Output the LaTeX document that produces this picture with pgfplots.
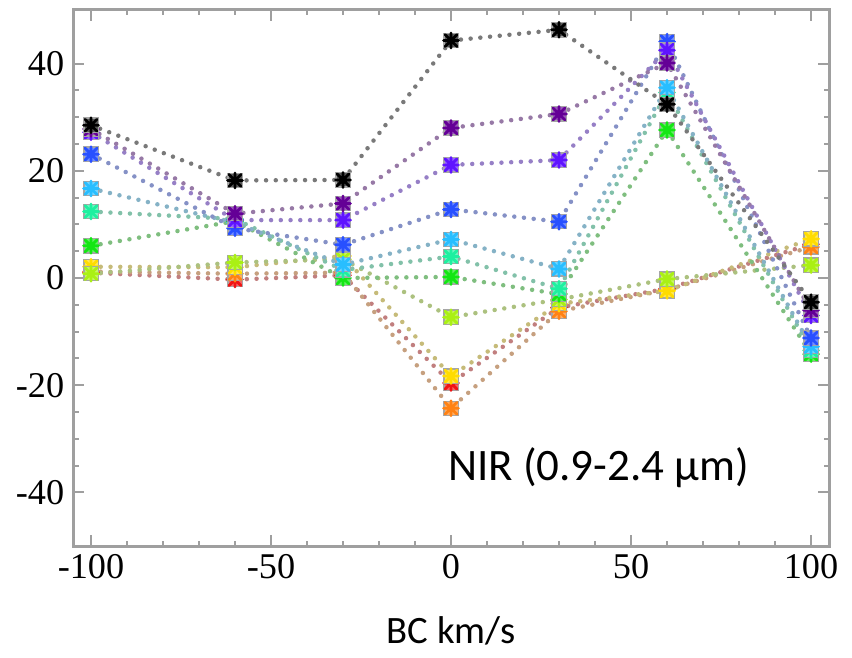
\documentclass[border=0pt]{standalone}
\usepackage{pgfplots}
\pgfplotsset{compat=1.18}
\usepackage{fontspec}
\setmainfont{Liberation Serif}
\newfontfamily\carlito{Carlito}

\definecolor{cblack}{RGB}{0,0,0}
\definecolor{cdpurple}{RGB}{100,0,150}
\definecolor{cviolet}{RGB}{95,20,255}
\definecolor{cblue}{RGB}{40,80,255}
\definecolor{csky}{RGB}{40,190,255}
\definecolor{caqua}{RGB}{30,240,160}
\definecolor{cgreen}{RGB}{20,230,20}
\definecolor{clime}{RGB}{170,240,20}
\definecolor{cyellow}{RGB}{255,220,0}
\definecolor{corange}{RGB}{255,130,20}
\definecolor{cred}{RGB}{240,20,20}

% filled square (grey rim) with an eight-armed star on top
\pgfdeclareplotmark{ast}{%
  \begin{pgfscope}
  \pgfsetstrokecolor{gray!70}\pgfsetlinewidth{0.5pt}%
  \pgfpathrectangle{\pgfpoint{-0.95\pgfplotmarksize}{-0.95\pgfplotmarksize}}%
    {\pgfpoint{1.9\pgfplotmarksize}{1.9\pgfplotmarksize}}%
  \pgfusepathqfillstroke
  \end{pgfscope}
  \pgfpathmoveto{\pgfpoint{-0.8\pgfplotmarksize}{-0.8\pgfplotmarksize}}%
  \pgfpathlineto{\pgfpoint{0.8\pgfplotmarksize}{0.8\pgfplotmarksize}}%
  \pgfpathmoveto{\pgfpoint{-0.8\pgfplotmarksize}{0.8\pgfplotmarksize}}%
  \pgfpathlineto{\pgfpoint{0.8\pgfplotmarksize}{-0.8\pgfplotmarksize}}%
  \pgfpathmoveto{\pgfpoint{-\pgfplotmarksize}{0pt}}%
  \pgfpathlineto{\pgfpoint{\pgfplotmarksize}{0pt}}%
  \pgfpathmoveto{\pgfpoint{0pt}{-\pgfplotmarksize}}%
  \pgfpathlineto{\pgfpoint{0pt}{\pgfplotmarksize}}%
  \pgfusepathqstroke
}

\pgfplotsset{
  ser/.style={
    draw=#1!40!gray!75!white,
    line width=1.8pt, line cap=round, dash pattern=on 0pt off 3.9pt,
    mark=ast, mark size=3pt,
    mark options={solid, line width=1.1pt, draw=#1, fill=#1!65!white},
  },
}

\begin{document}
\begin{tikzpicture}
\begin{axis}[
  scale only axis,
  width=302.4pt, height=214.4pt,
  xmin=-105, xmax=105, ymin=-50, ymax=50,
  xtick={-100,-50,0,50,100},
  ytick={-40,-20,0,20,40},
  minor x tick num=4,
  minor y tick num=3,
  tick align=inside,
  major tick length=4.5pt,
  minor tick length=2.2pt,
  axis line style={gray!75, line width=1.2pt},
  every tick/.style={gray!75, line width=0.8pt},
  tick label style={font=\fontsize{14.5}{14.5}\selectfont, black},
  /pgf/number format/assume math mode=true,
  xlabel={\carlito\fontsize{15.5}{15.5}\selectfont BC km/s},
  xlabel style={yshift=-8pt},
]
\addplot[ser=cred] coordinates {(-100,1.0) (-60,-0.3) (-30,0.5) (0,-19.6) (30,-5.5) (60,-2.0) (100,6.3)};
\addplot[ser=corange] coordinates {(-100,1.2) (-60,0.8) (-30,1.0) (0,-24.3) (30,-6.2) (60,-2.2) (100,5.8)};
\addplot[ser=cyellow] coordinates {(-100,2.1) (-60,2.0) (-30,4.1) (0,-18.3) (30,-4.8) (60,-2.4) (100,7.3)};
\addplot[ser=clime] coordinates {(-100,0.8) (-60,2.9) (-30,3.5) (0,-7.3) (30,-4.0) (60,-0.2) (100,2.4)};
\addplot[ser=cgreen] coordinates {(-100,6.0) (-60,10.6) (-30,0.0) (0,0.2) (30,-3.0) (60,27.6) (100,-14.2)};
\addplot[ser=caqua] coordinates {(-100,12.4) (-60,11.0) (-30,1.5) (0,4.0) (30,-2.0) (60,34.6) (100,-13.5)};
\addplot[ser=csky] coordinates {(-100,16.7) (-60,10.3) (-30,2.5) (0,7.2) (30,1.7) (60,35.5) (100,-12.8)};
\addplot[ser=cblue] coordinates {(-100,23.1) (-60,9.3) (-30,6.2) (0,12.8) (30,10.5) (60,44.1) (100,-11.2)};
\addplot[ser=cviolet] coordinates {(-100,27.2) (-60,10.8) (-30,10.8) (0,21.1) (30,22.0) (60,42.5) (100,-7.0)};
\addplot[ser=cdpurple] coordinates {(-100,27.8) (-60,12.0) (-30,13.9) (0,28.0) (30,30.6) (60,40.1) (100,-6.0)};
\addplot[ser=cblack] coordinates {(-100,28.5) (-60,18.2) (-30,18.3) (0,44.3) (30,46.3) (60,32.4) (100,-4.5)};
\node[font=\carlito\fontsize{18}{18}\selectfont] at (axis cs:41,-35.3) {NIR (0.9-2.4 µm)};
\end{axis}
\pgfresetboundingbox
\path[use as bounding box] ([shift={(-29.2pt,-44.4pt)}]current axis.south west)
  rectangle ([shift={(9.2pt,4pt)}]current axis.north east);
\end{tikzpicture}
\end{document}
